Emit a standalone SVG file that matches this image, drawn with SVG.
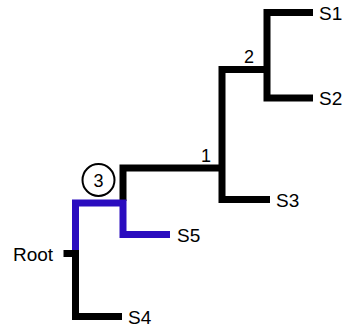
<svg xmlns="http://www.w3.org/2000/svg" width="342" height="328" viewBox="0 0 342 328">
<style>
.br{fill:none;stroke:#000;stroke-width:7;stroke-linejoin:miter;stroke-linecap:butt}
.bl{fill:none;stroke:#2a0cbf;stroke-width:7;stroke-linejoin:miter;stroke-linecap:butt}
text{font-family:"Liberation Sans",Arial,sans-serif;font-size:19px;fill:#000}
.n{font-size:18px;text-anchor:middle}
</style>
<rect width="342" height="328" fill="#fff"/>
<g id="connectors">
<path class="br" d="M313,12.5 H267 V98 H313"/>
<path class="br" d="M267,69.5 H222 V199.5 H270"/>
<path class="br" d="M222,168 H123 V201"/>
<path class="bl" d="M75.5,254 V203 H123 V234.5 H170"/>
<path class="br" d="M75.5,253 V316.5 H122"/>
<path class="br" d="M63.5,253.5 H79"/>
</g>
<g id="node-root"><text x="13" y="260.5">Root</text></g>
<g id="node-s1"><text x="319" y="19.5">S1</text></g>
<g id="node-s2"><text x="319" y="104.5">S2</text></g>
<g id="node-s3"><text x="276" y="206.5">S3</text></g>
<g id="node-s4"><text x="128" y="323.5">S4</text></g>
<g id="node-s5"><text x="177" y="241.5">S5</text></g>
<g id="node-1"><text class="n" x="206" y="162">1</text></g>
<g id="node-2"><text class="n" x="249" y="63">2</text></g>
<g id="node-3"><circle cx="98.5" cy="180" r="16" fill="none" stroke="#000" stroke-width="2"/><text class="n" x="98.5" y="186.5">3</text></g>
</svg>
